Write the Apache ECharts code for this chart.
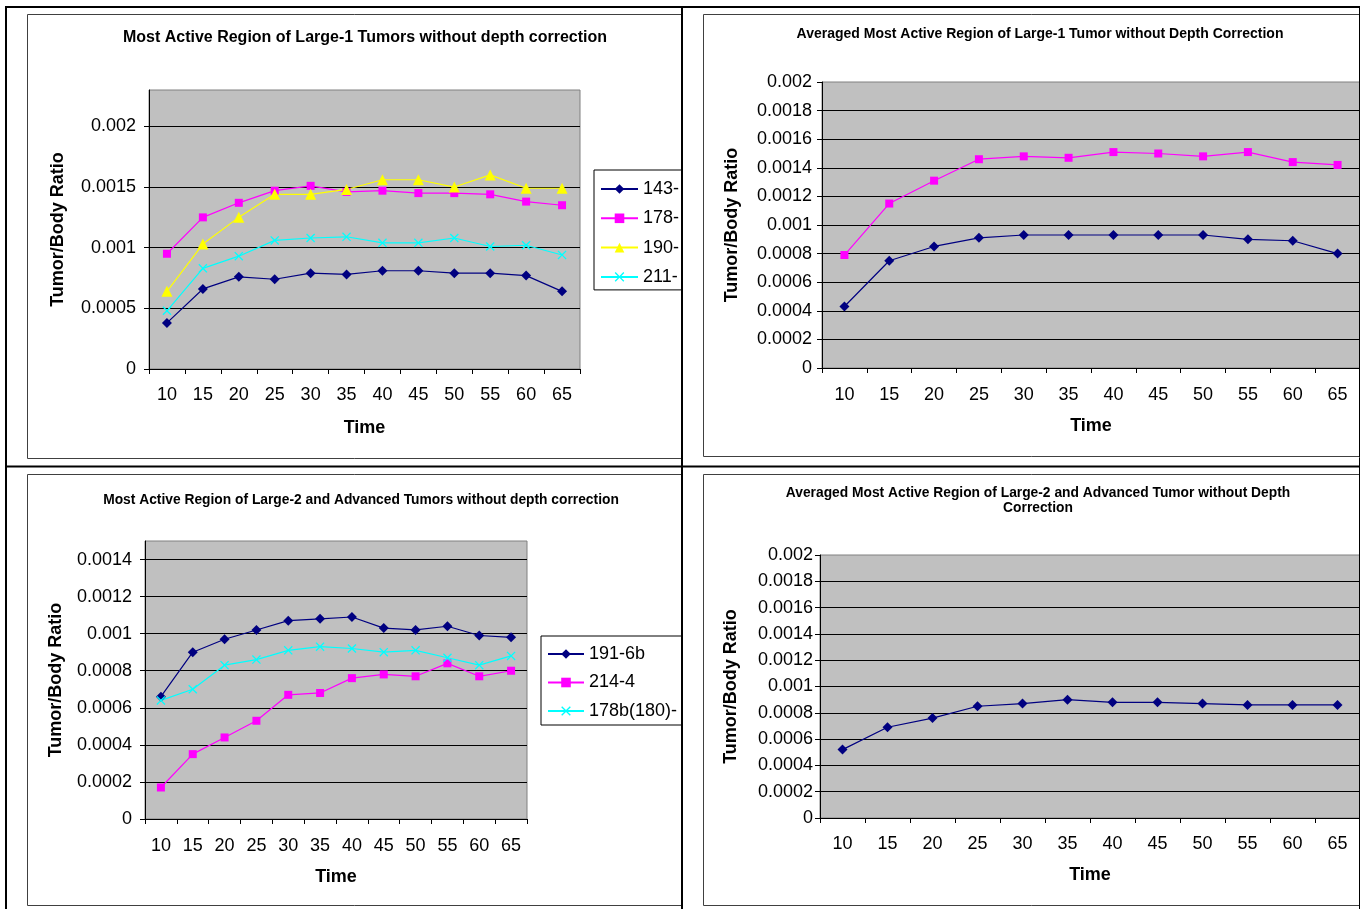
<!DOCTYPE html>
<html>
<head>
<meta charset="utf-8">
<script src="https://cdn.jsdelivr.net/npm/echarts@6/dist/echarts.min.js"></script>
<style>
html,body{margin:0;padding:0;background:#fff;}
#chart{width:1360px;height:909px;}
</style>
</head>
<body>
<div id="chart"></div>
<script>
// ---- data ----
const times = ['10','15','20','25','30','35','40','45','50','55','60','65'];

// Panel 1: Most Active Region of Large-1 Tumors
const large1Names = ['143-','178-','190-','211-'];
const large1_143 = [0.00038,0.00066,0.00076,0.00074,0.00079,0.00078,0.00081,0.00081,0.00079,0.00079,0.00077,0.00064];
const large1_178 = [0.00095,0.00125,0.00137,0.00147,0.00151,0.00146,0.00147,0.00145,0.00145,0.00144,0.00138,0.00135];
const large1_190 = [0.00064,0.00103,0.00125,0.00144,0.00144,0.00148,0.00156,0.00156,0.00150,0.00160,0.00149,0.00149];
const large1_211 = [0.00048,0.00083,0.00093,0.00106,0.00108,0.00109,0.00104,0.00104,0.00108,0.00101,0.00102,0.00094];

// Panel 2: Averaged Large-1
const avgLarge1_A = [0.00043,0.00075,0.00085,0.00091,0.00093,0.00093,0.00093,0.00093,0.00093,0.00090,0.00089,0.00080];
const avgLarge1_B = [0.00079,0.00115,0.00131,0.00146,0.00148,0.00147,0.00151,0.00150,0.00148,0.00151,0.00144,0.00142];

// Panel 3: Large-2 and Advanced
const large2Names = ['191-6b','214-4','178b(180)-'];
const large2_191 = [0.00066,0.00090,0.00097,0.00102,0.00107,0.00108,0.00109,0.00103,0.00102,0.00104,0.00099,0.00098];
const large2_214 = [0.00017,0.00035,0.00044,0.00053,0.00067,0.00068,0.00076,0.00078,0.00077,0.00084,0.00077,0.00080];
const large2_178b = [0.00064,0.00070,0.00083,0.00086,0.00091,0.00093,0.00092,0.00090,0.00091,0.00087,0.00083,0.00088];

// Panel 4: Averaged Large-2 and Advanced
const avgLarge2 = [0.00052,0.00069,0.00076,0.00085,0.00087,0.00090,0.00088,0.00088,0.00087,0.00086,0.00086,0.00086];

// ---- styling helpers ----
const FONT = '"Liberation Sans", Arial, sans-serif';
const NAVY = '#000080', MAGENTA = '#FF00FF', YELLOW = '#FFFF00', CYAN = '#00FFFF';
const XSYM = 'path://M0,1L1,0L5,4L9,0L10,1L6,5L10,9L9,10L5,6L1,10L0,9L4,5Z';

function xAx(idx, labelMargin, nameGap){
  return {
    type:'category', gridIndex: idx, data: times, boundaryGap: true,
    name:'Time', nameLocation:'middle', nameGap: nameGap,
    nameTextStyle:{fontFamily:FONT, fontSize:18, fontWeight:'bold', color:'#000'},
    axisLine:{lineStyle:{color:'#000', width:1}},
    axisTick:{show:true, length:5, inside:false, alignWithLabel:false, lineStyle:{color:'#000'}},
    axisLabel:{fontFamily:FONT, fontSize:18, color:'#000', margin: labelMargin, interval:0},
    splitLine:{show:false}
  };
}
function yAx(idx, max, interval, labelMargin, nameGap){
  const onTick = Math.abs(max/interval - Math.round(max/interval)) < 1e-6;
  return {
    type:'value', gridIndex: idx, min:0, max:max, interval:interval,
    name:'Tumor/Body Ratio', nameLocation:'middle', nameGap:nameGap, nameRotate:90,
    nameTextStyle:{fontFamily:FONT, fontSize:18, fontWeight:'bold', color:'#000'},
    axisLine:{show:true, lineStyle:{color:'#000', width:1}},
    axisTick:{show:true, length:5, lineStyle:{color:'#000'}},
    axisLabel:{fontFamily:FONT, fontSize:18, color:'#000', margin:labelMargin, showMaxLabel: onTick},
    splitLine:{show:true, showMaxLine:false, lineStyle:{color:'#000', width:1}}
  };
}
function ser(name, data, xi, color, symbol, size){
  return {
    type:'line', name:name, data:data, xAxisIndex:xi, yAxisIndex:xi,
    symbol:symbol, symbolSize:size, showSymbol:true, showAllSymbol:true,
    lineStyle:{color:color, width:1.2}, itemStyle:{color:color},
    emphasis:{disabled:true}, animation:false, z:3
  };
}

const gridBase = {show:true, backgroundColor:'#C0C0C0', borderColor:'#808080', borderWidth:1, containLabel:false};

function frame(x1, y1, x2, y2){
  return {type:'polyline', shape:{points:[[x2,y1],[x1,y1],[x1,y2],[x2,y2]]}, style:{stroke:'#404040', fill:null, lineWidth:1}, z:1, silent:true};
}
function titleText(text, x, y, size){
  return {type:'text', x:x, y:y, z:5, silent:true,
    style:{text:text, font:'bold '+size+'px '+FONT, fill:'#000', align:'center', verticalAlign:'middle', textAlign:'center', textVerticalAlign:'middle'}};
}
function line(x1,y1,x2,y2,w,c){
  return {type:'line', shape:{x1:x1,y1:y1,x2:x2,y2:y2}, style:{stroke:c||'#000', lineWidth:w}, z:100, silent:true};
}

const option = {
  animation:false,
  backgroundColor:'#fff',
  grid:[
    Object.assign({left:149, top:90, width:431, height:279}, gridBase),
    Object.assign({left:822, top:82, width:538, height:286}, gridBase),
    Object.assign({left:145, top:541, width:382, height:278}, gridBase),
    Object.assign({left:820, top:555, width:542, height:263}, gridBase)
  ],
  xAxis:[ xAx(0,17,50), xAx(1,18,49), xAx(2,18,49), xAx(3,17,48) ],
  yAxis:[ yAx(0,0.0023,0.0005,13,82), yAx(1,0.002,0.0002,10,81), yAx(2,0.0015,0.0002,13,80), yAx(3,0.002,0.0002,7,80) ],
  legend:[
    {data: large1Names, orient:'vertical', left:594, top:170, itemWidth:37, itemHeight:12, itemGap:11.3,
     padding:[10,10,4,6], borderColor:'#000', borderWidth:1, backgroundColor:'#fff',
     textStyle:{fontFamily:FONT, fontSize:18, color:'#000'}, selectedMode:false},
    {data: large2Names, orient:'vertical', left:541, top:636, itemWidth:36, itemHeight:12, itemGap:10.5,
     padding:[9,10,5,6], borderColor:'#000', borderWidth:1, backgroundColor:'#fff',
     textStyle:{fontFamily:FONT, fontSize:18, color:'#000'}, selectedMode:false}
  ],
  series:[
    ser(large1Names[0], large1_143, 0, NAVY, 'diamond', 10),
    ser(large1Names[1], large1_178, 0, MAGENTA, 'rect', 8),
    ser(large1Names[2], large1_190, 0, YELLOW, 'triangle', 11),
    ser(large1Names[3], large1_211, 0, CYAN, XSYM, 9),
    ser('Average A', avgLarge1_A, 1, NAVY, 'diamond', 10),
    ser('Average B', avgLarge1_B, 1, MAGENTA, 'rect', 8),
    ser(large2Names[0], large2_191, 2, NAVY, 'diamond', 10),
    ser(large2Names[1], large2_214, 2, MAGENTA, 'rect', 8),
    ser(large2Names[2], large2_178b, 2, CYAN, XSYM, 9),
    ser('Average', avgLarge2, 3, NAVY, 'diamond', 10)
  ],
  graphic:{elements:[
    frame(27.5, 14.5, 681, 458.5),
    frame(703.5, 14.5, 1360, 456.5),
    frame(27.5, 474.5, 681, 905.5),
    frame(703.5, 474.5, 1360, 905.5),
    titleText('Most Active Region of Large-1 Tumors without depth correction', 365, 38, 16),
    titleText('Averaged Most Active Region of Large-1 Tumor without Depth Correction', 1040, 34, 14),
    titleText('Most Active Region of Large-2 and Advanced Tumors without depth correction', 361, 500, 13.8),
    titleText('Averaged Most Active Region of Large-2 and Advanced Tumor without Depth', 1038, 493, 13.8),
    titleText('Correction', 1038, 508, 13.8),
    // cover strip to clip legends at the table divider
    {type:'rect', shape:{x:683, y:8, width:19, height:901}, style:{fill:'#fff'}, z:99, silent:true},
    // table lines
    line(6, 6, 6, 909, 2),
    line(5, 7, 1360, 7, 2),
    line(682, 6, 682, 909, 2),
    line(5, 466.5, 1360, 466.5, 2),
    line(1359.5, 6, 1359.5, 909, 1)
  ]}
};

const chart = echarts.init(document.getElementById('chart'), null, {renderer:'canvas', width:1360, height:909});
chart.setOption(option);
</script>
</body>
</html>
